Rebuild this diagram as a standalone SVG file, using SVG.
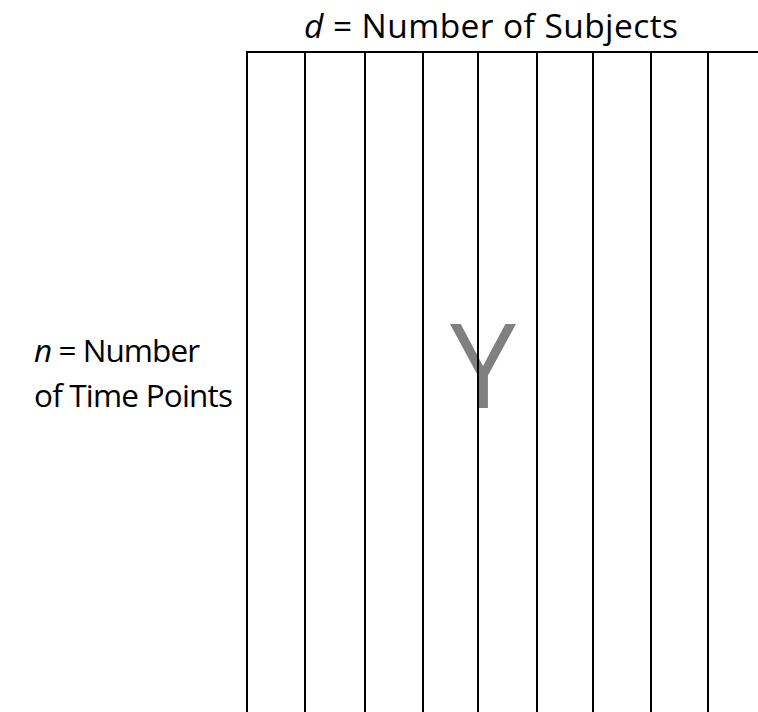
<svg xmlns="http://www.w3.org/2000/svg" width="758" height="712" viewBox="0 0 758 712">
<style>
.t{font-family:"Open Sans","Noto Sans","Liberation Sans",sans-serif;fill:#000;font-size:31.5px}
.g line{stroke:#000;stroke-width:2}
</style>
<rect width="758" height="712" fill="#fff"/>
<g id="matrix">
<text x="483" y="408" font-family="'Open Sans','Noto Sans','Liberation Sans',sans-serif" font-size="118" fill="#808080" text-anchor="middle">Y</text>
<g class="g">
<line x1="246" y1="52" x2="758" y2="52"/>
<line x1="247" y1="51" x2="247" y2="712"/>
<line x1="305" y1="52" x2="305" y2="712"/>
<line x1="365" y1="52" x2="365" y2="712"/>
<line x1="423" y1="52" x2="423" y2="712"/>
<line x1="478" y1="52" x2="478" y2="712"/>
<line x1="537" y1="52" x2="537" y2="712"/>
<line x1="593" y1="52" x2="593" y2="712"/>
<line x1="651" y1="52" x2="651" y2="712"/>
<line x1="708" y1="52" x2="708" y2="712"/>
</g>
</g>
<g id="top-label">
<text class="t" x="304" y="38" font-size="33.5" textLength="374" lengthAdjust="spacing" style="font-size:33.5px"><tspan font-style="italic">d</tspan> = Number of Subjects</text>
</g>
<g id="left-label">
<text class="t" x="34" y="362" textLength="166" lengthAdjust="spacing"><tspan font-style="italic">n</tspan> = Number</text>
<text class="t" x="34" y="407" textLength="199" lengthAdjust="spacing">of Time Points</text>
</g>
</svg>
